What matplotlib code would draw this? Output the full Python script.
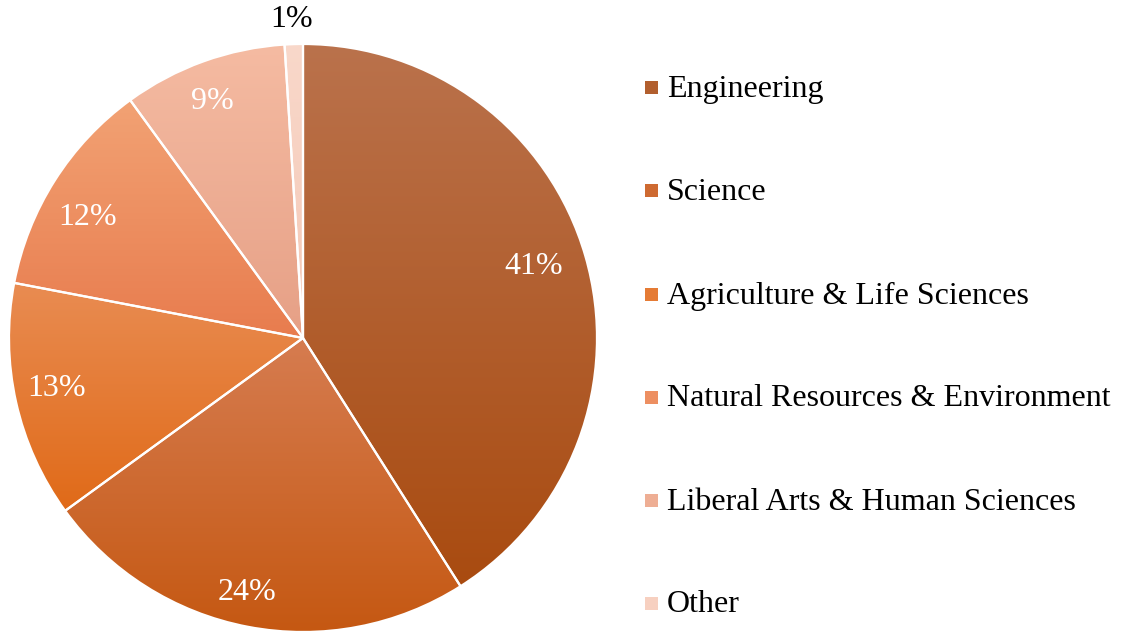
import numpy as np
import matplotlib
matplotlib.use("Agg")
import matplotlib.pyplot as plt
from matplotlib.colors import LinearSegmentedColormap
from matplotlib.patches import Rectangle

plt.rcParams['font.family'] = ['Liberation Serif', 'DejaVu Serif']

# data
labels = ["Engineering", "Science", "Agriculture & Life Sciences",
          "Natural Resources & Environment", "Liberal Arts & Human Sciences", "Other"]
shares = [41, 24, 13, 12, 9, 1]

# top / bottom colour of each slice's vertical gradient
top_colors = ["#BA724C", "#D67C50", "#E98C52", "#F2A274", "#F5BBA2", "#F9D8CA"]
bottom_colors = ["#A94B10", "#C55812", "#E06A18", "#E87C4E", "#E6A086", "#F4C8B6"]

# label placement tweaks (radius, angle shift in degrees) to match the original
pct_radius = [0.825, 0.87, 0.853, 0.846, 0.876, 1.10]
pct_shift = [2.1, -1.8, -2.0, 2.2, 0.9, 0.3]

W, H = 1122, 631
fig = plt.figure(figsize=(W / 100, H / 100), dpi=100)

# pie centre ~ (303, 338) px, radius ~ 294 px
cx, cy, r = 303, 338, 294
ax = fig.add_axes([(cx - r) / W, (H - cy - r) / H, 2 * r / W, 2 * r / H])
ax.axis('off')

wedges, texts, autotexts = ax.pie(
    shares, startangle=90, counterclock=False, radius=1,
    autopct='%d%%', pctdistance=0.85,
    wedgeprops=dict(edgecolor='white', linewidth=1.6),
    textprops=dict(color='white', fontsize=23))

# gradient fill for each wedge, clipped to its shape
for w, c0, c1 in zip(wedges, top_colors, bottom_colors):
    ext = w.get_path().get_extents()
    cmap = LinearSegmentedColormap.from_list("g", [c1, c0])
    grad = np.linspace(0, 1, 256).reshape(-1, 1)
    im = ax.imshow(grad, cmap=cmap, origin='lower', aspect='auto',
                   extent=[ext.x0, ext.x1, ext.y0, ext.y1], zorder=w.get_zorder() - 0.01)
    im.set_clip_path(w)
    w.set_facecolor('none')

# move the percent labels a bit
for t, w, rr, sh in zip(autotexts, wedges, pct_radius, pct_shift):
    ang = np.deg2rad((w.theta1 + w.theta2) / 2 + sh)
    t.set_position((rr * np.cos(ang), rr * np.sin(ang) - 0.015))

# small slice label sits outside in black
autotexts[-1].set_color('black')

ax.set_xlim(-1, 1)
ax.set_ylim(-1, 1)

# legend drawn by hand: rows every ~103 px
legend_y = [86, 189, 293, 396, 499, 602]
sq = 13
for lab, c0, c1, y in zip(labels, top_colors, bottom_colors, legend_y):
    mid = LinearSegmentedColormap.from_list("m", [c1, c0])(0.5)
    fig.patches.append(Rectangle((645 / W, (H - y - 1 - sq / 2) / H), sq / W, sq / H,
                                 transform=fig.transFigure, facecolor=mid,
                                 edgecolor='none'))
    fig.text(667 / W, (H - y - 3) / H, lab, fontsize=23, va='center', ha='left',
             color='black')

fig.savefig("out.png", dpi=100)
